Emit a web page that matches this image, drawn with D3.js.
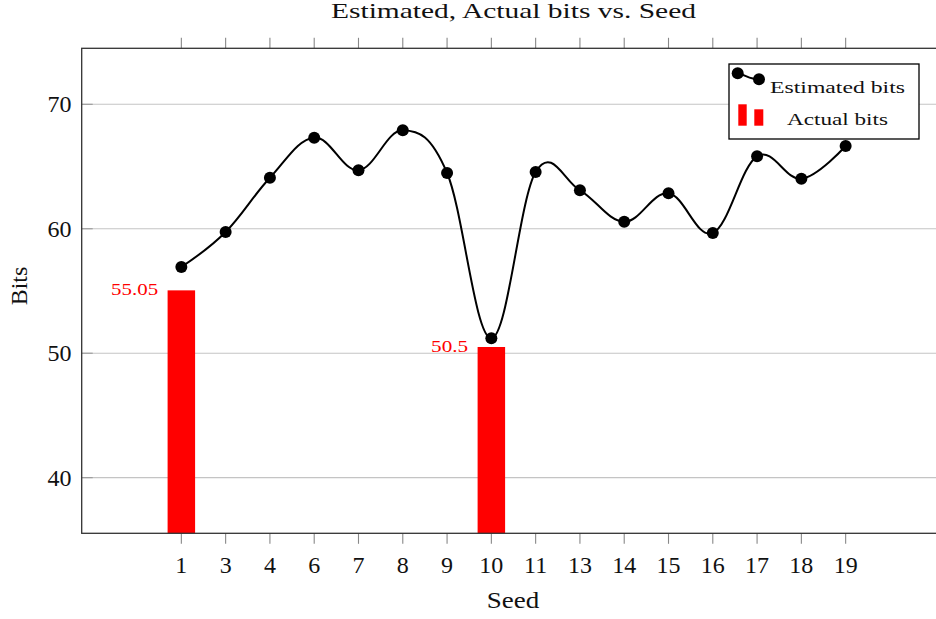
<!DOCTYPE html>
<html lang="en">
<head>
    <meta charset="UTF-8">
    <title>Estimated, Actual bits vs. Seed</title>
    <script src="https://d3js.org/d3.v7.min.js"></script>
    <style>
        body { margin: 0; background: #fff; }
        text { font-family: "Liberation Serif", "DejaVu Serif", serif; fill: #111; }
    </style>
</head>
<body>
    <div id="chart"></div>

    <script>
        // data
        var seeds = ["1", "3", "4", "6", "7", "8", "9", "10", "11", "13", "14", "15", "16", "17", "18", "19"];
        var estimated = [56.93, 59.74, 64.10, 67.32, 64.70, 67.91, 64.48, 51.20, 64.56, 63.09, 60.57, 62.85, 59.66, 65.82, 64.02, 66.65];
        var actualSeeds = ["1", "10"];
        var actual = [55.05, 50.5];
        var actualLabels = ["55.05", "50.5"];
        var yTicks = [40, 50, 60, 70];

        var width = 936;
        var height = 619;
        // plot box (right edge runs past the window, as in the original)
        var pL = 81.7, pR = 945.3, pT = 48.3, pB = 533.3;

        var svg = d3.select("#chart")
            .append("svg")
            .attr("width", width)
            .attr("height", height);

        var x = d3.scalePoint()
            .domain(seeds)
            .range([pL, pR])
            .padding(2.25);

        var y = d3.scaleLinear()
            .domain([35.53, 74.5])
            .range([pB, pT]);

        // grid lines
        svg.append("g")
            .selectAll("line")
            .data(yTicks)
            .enter().append("line")
            .attr("x1", pL).attr("x2", pR)
            .attr("y1", function(d) { return y(d); })
            .attr("y2", function(d) { return y(d); })
            .attr("stroke", "#c4c4c4")
            .attr("stroke-width", 1.1);

        // y ticks (inside) on left
        svg.append("g")
            .selectAll("line")
            .data(yTicks)
            .enter().append("line")
            .attr("x1", pL).attr("x2", pL + 11)
            .attr("y1", function(d) { return y(d); })
            .attr("y2", function(d) { return y(d); })
            .attr("stroke", "#999")
            .attr("stroke-width", 1.1);

        // x ticks, outside, top and bottom
        var xTickG = svg.append("g");
        xTickG.selectAll("line.b")
            .data(seeds)
            .enter().append("line")
            .attr("class", "b")
            .attr("x1", function(d) { return x(d); })
            .attr("x2", function(d) { return x(d); })
            .attr("y1", pB).attr("y2", pB + 10.5)
            .attr("stroke", "#888")
            .attr("stroke-width", 1.1);
        xTickG.selectAll("line.t")
            .data(seeds)
            .enter().append("line")
            .attr("class", "t")
            .attr("x1", function(d) { return x(d); })
            .attr("x2", function(d) { return x(d); })
            .attr("y1", pT).attr("y2", pT - 10.5)
            .attr("stroke", "#888")
            .attr("stroke-width", 1.1);

        // bars
        var barW = 27.5;
        svg.append("g")
            .selectAll("rect")
            .data(actual)
            .enter().append("rect")
            .attr("x", function(d, i) { return x(actualSeeds[i]) - barW / 2; })
            .attr("y", function(d) { return y(d); })
            .attr("width", barW)
            .attr("height", function(d) { return pB - y(d); })
            .attr("fill", "#ff0000");

        var labelW = [47, 37];
        svg.append("g")
            .selectAll("text")
            .data(actual)
            .enter().append("text")
            .attr("x", function(d, i) { return x(actualSeeds[i]) - barW / 2 - 9.5; })
            .attr("y", function(d) { return y(d) + 1; })
            .attr("text-anchor", "end")
            .attr("dominant-baseline", "middle")
            .attr("font-size", 17)
            .attr("textLength", function(d, i) { return labelW[i]; })
            .attr("lengthAdjust", "spacingAndGlyphs")
            .style("fill", "#ff0000")
            .text(function(d, i) { return actualLabels[i]; });

        // smooth line, like tikz "smooth" (tension 0.55)
        var line = d3.line()
            .x(function(d, i) { return x(seeds[i]); })
            .y(function(d) { return y(d); })
            .curve(d3.curveCardinal.tension(-0.1));

        svg.append("path")
            .datum(estimated)
            .attr("d", line)
            .attr("fill", "none")
            .attr("stroke", "#000")
            .attr("stroke-width", 2);

        svg.append("g")
            .selectAll("circle")
            .data(estimated)
            .enter().append("circle")
            .attr("cx", function(d, i) { return x(seeds[i]); })
            .attr("cy", function(d) { return y(d); })
            .attr("r", 6)
            .attr("fill", "#000");

        // axis frame
        svg.append("rect")
            .attr("x", pL).attr("y", pT)
            .attr("width", pR - pL).attr("height", pB - pT)
            .attr("fill", "none")
            .attr("stroke", "#333")
            .attr("stroke-width", 1.3);

        // tick labels
        svg.append("g")
            .selectAll("text")
            .data(yTicks)
            .enter().append("text")
            .attr("x", 71.5)
            .attr("y", function(d) { return y(d); })
            .attr("text-anchor", "end")
            .attr("dominant-baseline", "central")
            .attr("font-size", 24)
            .text(function(d) { return d; });

        svg.append("g")
            .selectAll("text")
            .data(seeds)
            .enter().append("text")
            .attr("x", function(d) { return x(d); })
            .attr("y", 572.5)
            .attr("text-anchor", "middle")
            .attr("font-size", 24)
            .text(function(d) { return d; });

        // titles
        svg.append("text")
            .attr("x", 513.5).attr("y", 18)
            .attr("text-anchor", "middle")
            .attr("font-size", 21)
            .attr("textLength", 365)
            .attr("lengthAdjust", "spacingAndGlyphs")
            .text("Estimated, Actual bits vs. Seed");

        svg.append("text")
            .attr("x", 513).attr("y", 607.5)
            .attr("text-anchor", "middle")
            .attr("font-size", 23)
            .attr("textLength", 52.5)
            .attr("lengthAdjust", "spacingAndGlyphs")
            .text("Seed");

        svg.append("text")
            .attr("transform", "translate(27,286) rotate(-90)")
            .attr("text-anchor", "middle")
            .attr("font-size", 23)
            .attr("textLength", 38.5)
            .attr("lengthAdjust", "spacingAndGlyphs")
            .text("Bits");

        // legend
        var lg = svg.append("g");
        lg.append("rect")
            .attr("x", 729).attr("y", 64)
            .attr("width", 190).attr("height", 75)
            .attr("fill", "#fff")
            .attr("stroke", "#000")
            .attr("stroke-width", 1.3);

        lg.append("path")
            .attr("d", "M737.7,73.3 C745,74.5 750,79.5 759,79.3")
            .attr("fill", "none")
            .attr("stroke", "#000")
            .attr("stroke-width", 2);
        lg.selectAll("circle")
            .data([[737.7, 73.3], [759, 79.3]])
            .enter().append("circle")
            .attr("cx", function(d) { return d[0]; })
            .attr("cy", function(d) { return d[1]; })
            .attr("r", 6)
            .attr("fill", "#000");
        lg.append("text")
            .attr("x", 837.5).attr("y", 92.5)
            .attr("text-anchor", "middle")
            .attr("font-size", 16.5)
            .attr("textLength", 135)
            .attr("lengthAdjust", "spacingAndGlyphs")
            .text("Estimated bits");

        lg.append("rect")
            .attr("x", 738.3).attr("y", 104.3)
            .attr("width", 8.4).attr("height", 21.4)
            .attr("fill", "#ff0000");
        lg.append("rect")
            .attr("x", 754.3).attr("y", 109.3)
            .attr("width", 9).attr("height", 16.4)
            .attr("fill", "#ff0000");
        lg.append("text")
            .attr("x", 837.5).attr("y", 125)
            .attr("text-anchor", "middle")
            .attr("font-size", 16.5)
            .attr("textLength", 101)
            .attr("lengthAdjust", "spacingAndGlyphs")
            .text("Actual bits");
    </script>
</body>
</html>
